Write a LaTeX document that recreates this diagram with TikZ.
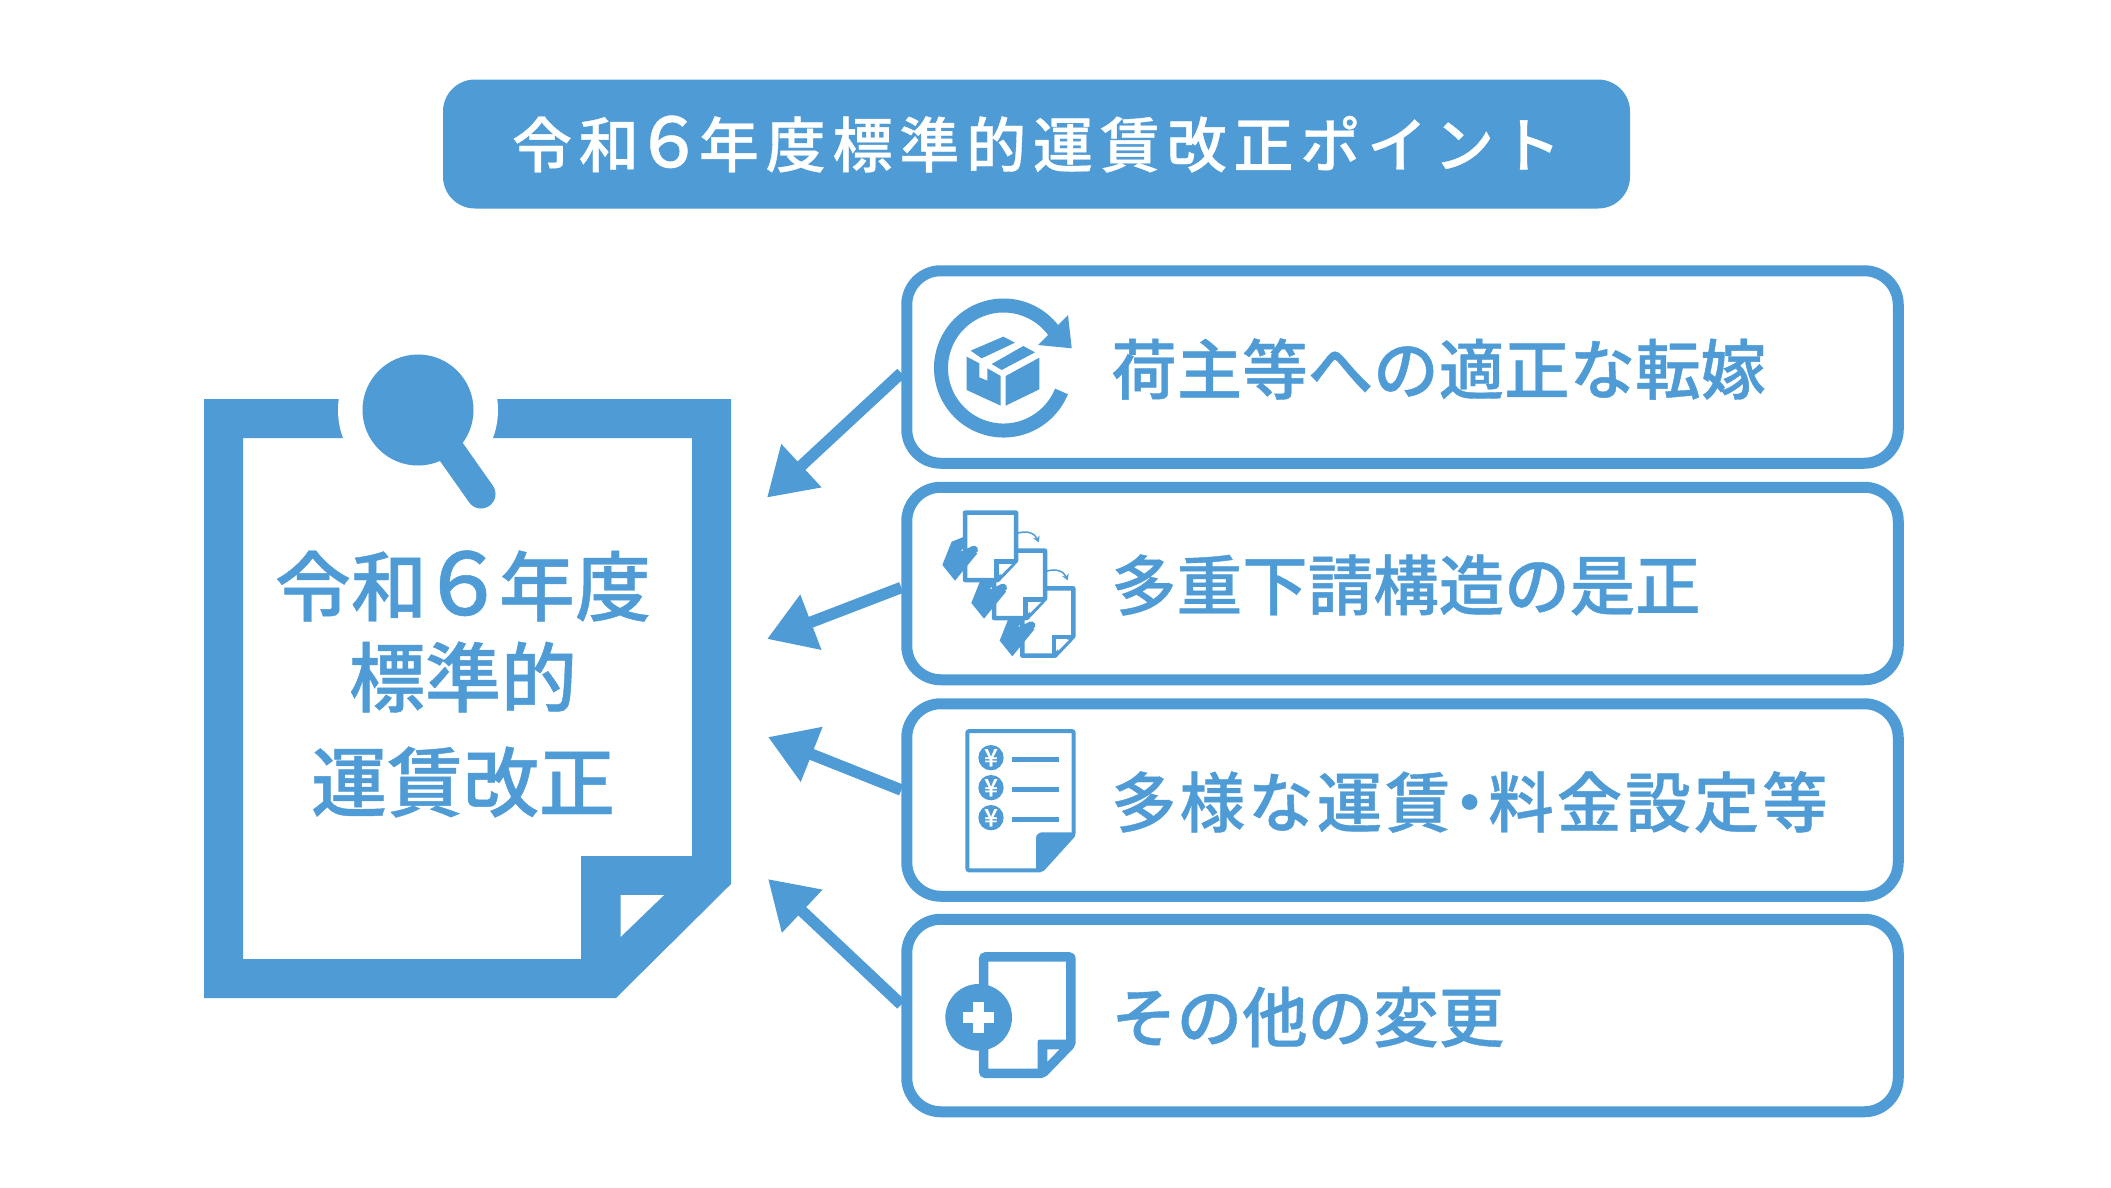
\documentclass[tikz,border=0pt]{standalone}
\usepackage{fontspec}
\setmainfont{Noto Sans CJK JP Medium}[FakeBold=0.6]
\usetikzlibrary{
    arrows.meta
}
\definecolor{kblue}{HTML}{4F9BD6}

\tikzset{
    itembox/.style={draw=kblue, line width=11pt, rounded corners=34pt, minimum width=991.5pt, minimum height=192.5pt, inner sep=0pt},
    itemtext/.style={anchor=west, text=kblue, font=\fontsize{65.5}{70}\selectfont, inner sep=0pt},
    sidetext/.style={text=kblue, font=\fontsize{76}{80}\selectfont, inner sep=0pt},
    point/.style={draw=kblue, line width=11.5pt, -{Triangle[length=47pt,width=56pt]}},
    icon/.style={xscale=.3333, yscale=-.3333}
}

\begin{document}
\begin{tikzpicture}[x=1pt,y=1pt]
    \useasboundingbox (0,0) rectangle (2111,-1187);
    \node[fill=kblue, rounded corners=32pt, minimum width=1187pt, minimum height=129pt, inner sep=0pt,
        text=white, font=\fontsize{60}{64}\selectfont] (title) at (1036.5,-144)
        {\addfontfeature{LetterSpace=11.4}令和{\fontsize{69}{64}\selectfont\kern-4.5pt ６\kern-4.5pt}年度標準的運賃改正ポイント};
    % sheet
    \fill[kblue, even odd rule] (204,-399) -- (731,-399) -- (731,-884) -- (616,-998) -- (204,-998) -- cycle
        (243,-438) -- (243,-959) -- (581,-959) -- (581,-856) -- (692,-856) -- (692,-438) -- cycle;
    \fill[white] (620.5,-895) -- (664,-895) -- (620.5,-937) -- cycle;
    \fill[white] (418,-410) circle[radius=80];
    \draw[kblue, line width=29pt, line cap=round] (450,-450) -- (481,-494);
    \fill[kblue] (418,-410) circle[radius=55.5];
    \node[sidetext] (side1) at (463,-586) {令和{\fontsize{86}{80}\selectfont\kern-7pt ６\kern-7pt}年度};
    \node[sidetext] (side2) at (463,-677) {標準的};
    \node[sidetext] (side3) at (463,-782) {運賃改正};
    % boxes
    \node[itembox] (box1) at (1402.5,-367) {};
    \node[itembox] (box2) at (1402.5,-583.5) {};
    \node[itembox] (box3) at (1402.5,-800) {};
    \node[itembox] (box4) at (1402.5,-1015.5) {};
    \node[itemtext] (text1) at (1111,-369) {荷主等への適正な転嫁};
    \node[itemtext] (text2) at (1111,-585) {多重下請構造の是正};
    \node[itemtext] (text3) at (1111,-802)
        {\addfontfeature{LetterSpace=4.6}多様な運賃\kern-14pt ・\kern-14pt 料金設定等};
    \node[itemtext] (text4) at (1111,-1017) {その他の変更};
    % arrows
    \coordinate (tip1) at (767,-497.6);
    \coordinate (tip2) at (767,-639);
    \coordinate (tip3) at (768,-737);
    \coordinate (tip4) at (768,-879);
    \draw[point] ([yshift=-6pt]box1.west) -- (tip1);
    \draw[point] ([yshift=-4pt]box2.west) -- (tip2);
    \draw[point] ([yshift=10pt]box3.west) -- (tip3);
    \draw[point] ([yshift=11pt]box4.west) -- (tip4);
    % parcel icon
    \draw[kblue, line width=14pt] ([shift={(-22:62.5)}]1003.5,-368) arc[start angle=-22, end angle=-324, radius=62.5];
    \fill[kblue] (1071.7,-348.3) -- (1068,-315) -- (1038,-345) -- cycle;
    \begin{scope}[shift={(900,-260)}, icon]
        \fill[kblue] (200,290) -- (238,310) -- (238,352) -- (262,362) -- (262,325) -- (302,348) -- (302,437) -- (200,390) -- cycle;
        \fill[kblue] (317,348) -- (418,293) -- (418,388) -- (317,437) -- cycle;
        \fill[kblue] (212,272) -- (310,230) -- (345,248) -- (245,295) -- cycle;
        \fill[kblue] (275,312) -- (370,258) -- (405,277) -- (305,330) -- cycle;
    \end{scope}
    % handover icon
    \begin{scope}[shift={(930,-500)}, icon]
        \foreach \dx/\dy in {172/227, 87/114, 0/0} {
            \begin{scope}[shift={(\dx,\dy)}]
                \draw[kblue, fill=white, line width=4.5pt, line join=round] (105,38) -- (258,38) -- (258,182) -- (203,240) -- (105,240) -- cycle;
                \draw[kblue, line width=4.5pt] (258,184) -- (200,184) -- (200,240);
                \fill[white] (212,192) -- (246,192) -- (212,226) -- cycle;
                \fill[kblue] (37,195) -- (65,125) -- (108,108) -- (108,140) -- (92,152) -- (142,160) -- (75,242) -- cycle;
                \draw[kblue, line width=8pt, line cap=round] (100,165) -- (132,149);
            \end{scope}
        }
        \draw[kblue, line width=1.5pt, -{Stealth[length=6pt,width=7pt]}] (262,100) .. controls (290,90) and (315,100) .. (326,127);
        \draw[kblue, line width=1.5pt, -{Stealth[length=6pt,width=7pt]}] (349,214) .. controls (377,204) and (402,214) .. (413,241);
    \end{scope}
    % price list icon
    \begin{scope}[shift={(900,-700)}, icon]
        \draw[kblue, line width=4pt, rounded corners=2pt] (202,93) -- (521,93) -- (521,405) -- (425,511) -- (202,511) -- cycle;
        \fill[kblue] (408,510) [rounded corners=6pt] -- (408,397) [sharp corners] -- (525,397) -- (525,408) -- (428,510) -- cycle;
        \foreach \ypos in {173, 263, 353} {
            \fill[kblue] (273,\ypos) circle[radius=38];
            \node[text=white, font=\fontsize{24}{24}\selectfont, inner sep=0pt] (yen\ypos) at (273,\ypos) {¥};
            \draw[kblue, line width=5pt] (337,\ypos+4) -- (478,\ypos+4);
        }
    \end{scope}
    % new sheet icon
    \begin{scope}[shift={(900,-700)}, icon]
        \draw[kblue, line width=9.5pt, rounded corners=2pt] (251,771) -- (513,771) -- (513,1032) -- (428,1120) -- (251,1120) -- cycle;
        \fill[kblue, rounded corners=2pt] (413,1120) -- (413,1019) -- (525,1019) -- (525,1035) -- (430,1134) -- (413,1134) -- cycle;
        \fill[white] (442,1048) -- (478,1048) -- (442,1085) -- cycle;
        \fill[kblue] (236,952) circle[radius=100];
        \fill[white] (219,905) rectangle (253,998);
        \fill[white] (189,935) rectangle (283,969);
    \end{scope}
\end{tikzpicture}
\end{document}
